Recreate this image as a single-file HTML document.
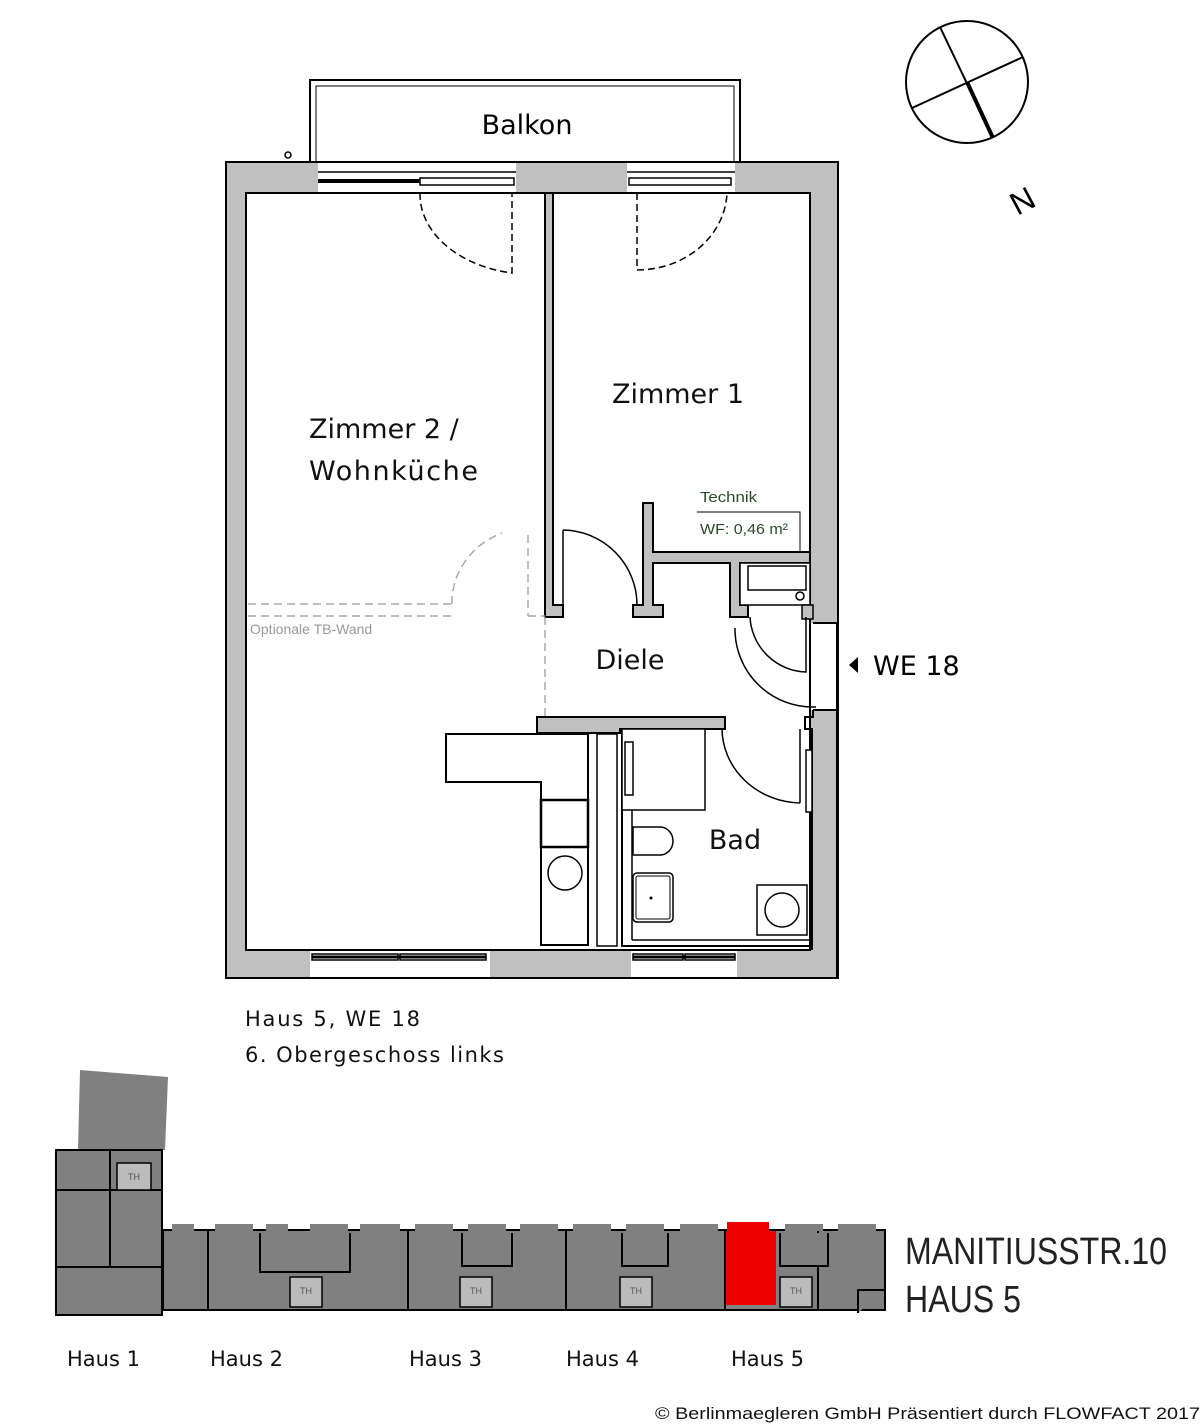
<!DOCTYPE html>
<html><head><meta charset="utf-8"><style>html,body{margin:0;padding:0;background:#fff}svg{display:block}</style></head><body>
<svg width="1200" height="1424" viewBox="0 0 1200 1424" xmlns="http://www.w3.org/2000/svg" font-family="Liberation Sans, sans-serif">
<rect width="1200" height="1424" fill="#fff"/>
<!-- Balkon -->
<rect x="310" y="80" width="430" height="82" fill="#fff" stroke="#000" stroke-width="2"/>
<rect x="316" y="86" width="418" height="76" fill="none" stroke="#000" stroke-width="1"/>
<circle cx="288" cy="155" r="3" fill="none" stroke="#000" stroke-width="1.5"/>
<text x="527" y="134" font-size="27" text-anchor="middle" font-family="DejaVu Sans, sans-serif">Balkon</text>
<!-- outer walls -->
<path d="M226 162H838V978H226Z M246 193V950H810V193Z" fill="#c0c0c0" fill-rule="evenodd" stroke="#000" stroke-width="2"/>
<!-- windows top -->
<rect x="318" y="163" width="198" height="29" fill="#fff"/>
<line x1="318" y1="172" x2="516" y2="172" stroke="#000" stroke-width="1.5"/>
<line x1="318" y1="181" x2="420" y2="181" stroke="#000" stroke-width="4"/>
<rect x="420" y="178" width="94" height="7" fill="none" stroke="#000" stroke-width="1.5"/>
<rect x="627" y="163" width="108" height="29" fill="#fff"/>
<line x1="627" y1="172" x2="735" y2="172" stroke="#000" stroke-width="1.5"/>
<rect x="629" y="178" width="102" height="7" fill="none" stroke="#000" stroke-width="1.5"/>
<!-- door swings top -->
<path d="M420 193 A112 80 0 0 0 512 273 V193" fill="none" stroke="#000" stroke-width="1.5" stroke-dasharray="7 4"/>
<path d="M637 193 V270 A90 80 0 0 0 727 193" fill="none" stroke="#000" stroke-width="1.5" stroke-dasharray="7 4"/>
<!-- windows bottom -->
<rect x="310" y="951" width="180" height="26" fill="#fff"/>
<rect x="312" y="954" width="86" height="6" fill="none" stroke="#000" stroke-width="1.5"/>
<rect x="400" y="954" width="86" height="6" fill="none" stroke="#000" stroke-width="1.5"/>
<line x1="312" y1="957" x2="486" y2="957" stroke="#000" stroke-width="3"/>
<rect x="631" y="951" width="106" height="26" fill="#fff"/>
<rect x="633" y="954" width="50" height="6" fill="none" stroke="#000" stroke-width="1.5"/>
<rect x="685" y="954" width="50" height="6" fill="none" stroke="#000" stroke-width="1.5"/>
<line x1="633" y1="957" x2="735" y2="957" stroke="#000" stroke-width="3"/>
<!-- partition walls -->
<path d="M545 193H553V605H563V617H545Z" fill="#c0c0c0" stroke="#000" stroke-width="2"/>
<path d="M643 503H653V552H810V563H740V605H748V617H730V563H653V605H663V617H633V605H643Z" fill="#c0c0c0" stroke="#000" stroke-width="2"/>
<rect x="740" y="563" width="70" height="42" fill="#fff" stroke="#000" stroke-width="1.5"/>
<rect x="748" y="566" width="58" height="24" fill="none" stroke="#000" stroke-width="1.5"/>
<circle cx="800" cy="596" r="4" fill="none" stroke="#000" stroke-width="1.5"/>
<rect x="802" y="605" width="11" height="14" fill="#c0c0c0" stroke="#000" stroke-width="1.5"/>
<!-- entrance gap -->
<rect x="811" y="623" width="26" height="87" fill="#fff"/>
<line x1="837" y1="623" x2="837" y2="710" stroke="#000" stroke-width="2"/>
<line x1="813" y1="623" x2="837" y2="623" stroke="#000" stroke-width="2"/>
<line x1="813" y1="710" x2="837" y2="710" stroke="#000" stroke-width="2"/>
<path d="M750 617 A58 58 0 0 0 806 672 V617" fill="none" stroke="#000" stroke-width="1.5"/>
<path d="M735 628 A78 78 0 0 0 816 707" fill="none" stroke="#000" stroke-width="1.5"/>
<polygon points="858,657 858,673 849,665" fill="#000"/>
<text x="873" y="675" font-size="27" font-family="DejaVu Sans, sans-serif">WE 18</text>
<!-- Technik -->
<text x="700" y="502" font-size="15" fill="#2b4a2b" textLength="57" lengthAdjust="spacingAndGlyphs">Technik</text>
<path d="M697 512H800V552" fill="none" stroke="#000" stroke-width="1"/>
<text x="700" y="534" font-size="15" fill="#2b4a2b" textLength="88" lengthAdjust="spacingAndGlyphs">WF: 0,46 m²</text>
<!-- door Zimmer 1 -->
<path d="M563 530 A75 75 0 0 1 637 605" fill="none" stroke="#000" stroke-width="1.5"/>
<line x1="563" y1="530" x2="563" y2="605" stroke="#000" stroke-width="1.5"/>
<!-- optional wall -->
<g stroke="#aaa" stroke-width="1.5" fill="none" stroke-dasharray="8 5">
<line x1="248" y1="604" x2="452" y2="604"/><line x1="248" y1="616" x2="452" y2="616"/>
<path d="M452 604 A80 75 0 0 1 502 533"/>
<line x1="528" y1="535" x2="528" y2="616"/><line x1="528" y1="616" x2="545" y2="616"/>
<line x1="545" y1="617" x2="545" y2="717"/>
</g>
<text x="250" y="634" font-size="14" fill="#999">Optionale TB-Wand</text>
<!-- Bad walls -->
<path d="M537 717H725V729H620V733H537Z" fill="#c0c0c0" stroke="#000" stroke-width="2"/>
<rect x="812" y="711" width="25" height="239" fill="#c0c0c0"/>
<path d="M813 710V717H805V729H812V950" fill="none" stroke="#000" stroke-width="2"/>
<line x1="837" y1="710" x2="837" y2="978" stroke="#000" stroke-width="2"/>
<rect x="806" y="750" width="6" height="62" fill="#fff" stroke="#000" stroke-width="1.5"/>
<path d="M722 728 A80 75 0 0 0 800 803" fill="none" stroke="#000" stroke-width="1.5"/>
<line x1="800" y1="803" x2="800" y2="729" stroke="#000" stroke-width="1.5"/>
<rect x="597" y="734" width="20" height="212" fill="#fff" stroke="#000" stroke-width="1.5"/>
<path d="M622 729V946H812" fill="none" stroke="#000" stroke-width="2"/>
<line x1="632" y1="810" x2="632" y2="940" stroke="#000" stroke-width="1.5"/>
<line x1="632" y1="940" x2="810" y2="940" stroke="#000" stroke-width="1.5"/>
<rect x="622" y="729" width="83" height="81" fill="#fff" stroke="#000" stroke-width="1.5"/>
<rect x="625" y="742" width="8" height="53" fill="#fff" stroke="#000" stroke-width="1.5"/>
<path d="M633 827H660A13 14 0 0 1 660 855H633Z" fill="#fff" stroke="#000" stroke-width="1.5"/>
<rect x="633" y="873" width="40" height="49" rx="4" fill="#fff" stroke="#000" stroke-width="1.5"/>
<rect x="636" y="876" width="34" height="43" rx="2" fill="none" stroke="#000" stroke-width="1"/>
<circle cx="651" cy="898" r="1.5" fill="#000"/>
<rect x="757" y="885" width="50" height="50" fill="#fff" stroke="#000" stroke-width="1.5"/>
<circle cx="782" cy="910" r="17" fill="none" stroke="#000" stroke-width="1.5"/>
<!-- kitchen -->
<path d="M446 734H588V945H541V782H446Z" fill="#fff" stroke="#000" stroke-width="2"/>
<rect x="541" y="800" width="47" height="47" fill="none" stroke="#000" stroke-width="2.5"/>
<circle cx="565" cy="873" r="17" fill="none" stroke="#000" stroke-width="1.5"/>
<!-- labels -->
<g font-family="DejaVu Sans, sans-serif" font-size="27" fill="#111">
<text x="678" y="403" text-anchor="middle">Zimmer 1</text>
<text x="309" y="438">Zimmer 2 /</text>
<text x="309" y="480" textLength="169">Wohnküche</text>
<text x="630" y="669" text-anchor="middle">Diele</text>
<text x="735" y="849" text-anchor="middle">Bad</text>
</g>
<!-- compass -->
<circle cx="967" cy="82" r="61" fill="none" stroke="#000" stroke-width="2"/>
<line x1="940" y1="27" x2="993" y2="138" stroke="#000" stroke-width="2"/>
<line x1="912" y1="108" x2="1023" y2="57" stroke="#000" stroke-width="2"/>
<line x1="967" y1="82" x2="993" y2="138" stroke="#000" stroke-width="4"/>
<text x="1022" y="212" font-size="32" text-anchor="middle" transform="rotate(-28 1022 200)">N</text>
<!-- info -->
<g font-family="DejaVu Sans, sans-serif" font-size="21" fill="#111">
<text x="245" y="1026" textLength="175">Haus 5, WE 18</text>
<text x="245" y="1062" textLength="259">6. Obergeschoss links</text>
<text x="67" y="1366">Haus 1</text><text x="210" y="1366">Haus 2</text><text x="409" y="1366">Haus 3</text><text x="566" y="1366">Haus 4</text><text x="731" y="1366">Haus 5</text>
</g>
<!-- site plan -->
<g stroke="#000" stroke-width="2" fill="#808080">
<polygon points="80,1070 168,1077 165,1150 78,1150" stroke="none"/>
<rect x="56" y="1150" width="106" height="165" />
<line x1="56" y1="1190" x2="162" y2="1190"/><line x1="56" y1="1267" x2="162" y2="1267"/>
<line x1="110" y1="1150" x2="110" y2="1267"/>
<rect x="163" y="1230" width="722" height="80"/>
<line x1="208" y1="1230" x2="208" y2="1310"/><line x1="408" y1="1230" x2="408" y2="1310"/><line x1="566" y1="1230" x2="566" y2="1310"/><line x1="725" y1="1230" x2="725" y2="1310"/><line x1="818" y1="1230" x2="818" y2="1310"/>
<path d="M260 1233V1272H350V1233"/><path d="M462 1233V1266H512V1233"/><path d="M622 1233V1266H668V1233"/><path d="M780 1233V1266H828V1233"/>
<path d="M858 1313V1290H884"/>
</g>
<g fill="#808080">
<rect x="172" y="1224" width="22" height="7"/><rect x="215" y="1224" width="38" height="7"/><rect x="266" y="1224" width="22" height="7"/><rect x="310" y="1224" width="38" height="7"/><rect x="360" y="1224" width="40" height="7"/><rect x="415" y="1224" width="38" height="7"/><rect x="468" y="1224" width="38" height="7"/><rect x="520" y="1224" width="38" height="7"/><rect x="573" y="1224" width="38" height="7"/><rect x="626" y="1224" width="38" height="7"/><rect x="680" y="1224" width="38" height="7"/><rect x="785" y="1224" width="38" height="7"/><rect x="838" y="1224" width="38" height="7"/>
</g>
<rect x="727" y="1222" width="42" height="9" fill="#e00"/>
<rect x="726" y="1231" width="50" height="74" fill="#e00"/>
<g fill="#bbb" stroke="#000" stroke-width="1.5">
<rect x="117" y="1163" width="34" height="27"/><rect x="290" y="1277" width="32" height="30"/><rect x="460" y="1277" width="32" height="30"/><rect x="620" y="1277" width="32" height="30"/><rect x="780" y="1277" width="32" height="30"/>
</g>
<g font-size="9" fill="#555" text-anchor="middle">
<text x="134" y="1180">TH</text><text x="306" y="1294">TH</text><text x="476" y="1294">TH</text><text x="636" y="1294">TH</text><text x="796" y="1294">TH</text>
</g>
<text x="905" y="1264" font-size="38" fill="#222" textLength="262" lengthAdjust="spacingAndGlyphs">MANITIUSSTR.10</text>
<text x="905" y="1312" font-size="38" fill="#222" textLength="116" lengthAdjust="spacingAndGlyphs">HAUS 5</text>
<text x="655" y="1419" font-size="17" fill="#111" textLength="545" lengthAdjust="spacingAndGlyphs">© Berlinmaegleren GmbH Präsentiert durch FLOWFACT 2017</text>
</svg>
</body></html>
